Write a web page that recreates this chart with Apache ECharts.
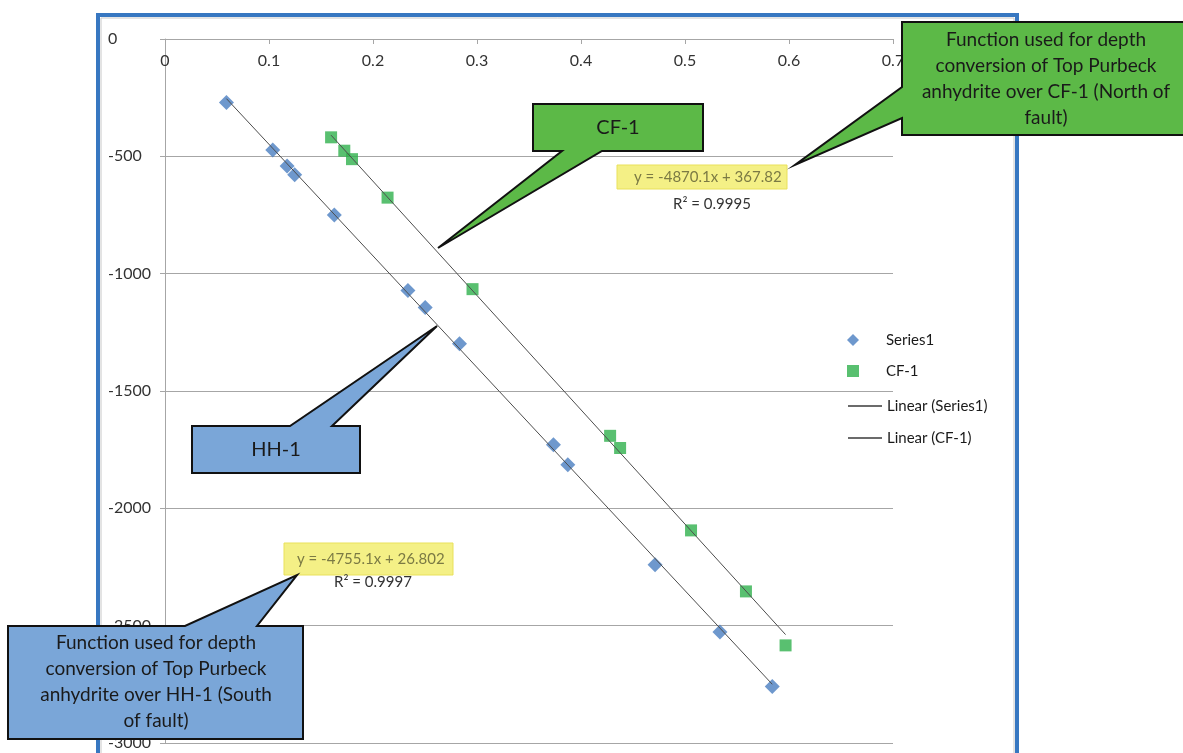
<!DOCTYPE html>
<html>
<head>
<meta charset="utf-8">
<script src="https://cdn.jsdelivr.net/npm/echarts@6/dist/echarts.min.js"></script>
<style>
  html, body { margin: 0; padding: 0; background: #fff; }
  #chart { width: 1183px; height: 753px; }
</style>
</head>
<body>
<div id="chart"></div>
<script>
// data
const series1X = [0.0591, 0.1036, 0.1174, 0.1247, 0.1628, 0.2336, 0.2502, 0.2832, 0.3735, 0.3873, 0.4712, 0.5336, 0.5839]
const series1Y = [-271, -473, -541, -579, -750, -1072, -1144, -1299, -1729, -1814, -2240, -2527, -2759]
const cf1X = [0.1597, 0.1724, 0.1798, 0.2140, 0.2957, 0.4280, 0.4376, 0.5058, 0.5586, 0.5967]
const cf1Y = [-419, -476, -512, -676, -1066, -1691, -1743, -2094, -2354, -2584]

// trendline equations shown on the chart
const trendSeries1 = { slope: -4755.1, intercept: 26.802, r2: '0.9997' }
const trendCF1 = { slope: -4870.1, intercept: 367.82, r2: '0.9995' }

const seriesNames = ['Series1', 'CF-1', 'Linear (Series1)', 'Linear (CF-1)']
const xTicks = [0, 0.7, 0.1]
const yTicks = [-3000, 0, 500]

const FONT = 'Lato, "Open Sans", sans-serif'

function pairs(xs, ys) {
    return xs.map((x, i) => [x, ys[i]])
}
function trendLine(xs, t) {
    const x0 = Math.min(...xs)
    const x1 = Math.max(...xs)
    return [[x0, t.slope * x0 + t.intercept], [x1, t.slope * x1 + t.intercept]]
}
function eqText(t) {
    const b = t.intercept >= 0 ? ' + ' + t.intercept : ' - ' + Math.abs(t.intercept)
    return 'y = ' + t.slope + 'x' + b
}

// callout shapes (annotation boxes with pointer)
function callout(points, fill) {
    return {
        type: 'polygon',
        z: 100,
        shape: { points: points },
        style: { fill: fill, stroke: '#111', lineWidth: 2, lineJoin: 'miter' }
    }
}
function calloutText(x, y, text, size) {
    return {
        type: 'text',
        z: 101,
        x: x,
        y: y,
        style: {
            text: text,
            fill: '#1a1a1a',
            font: size + 'px ' + FONT,
            align: 'center',
            verticalAlign: 'top',
            lineHeight: 26
        }
    }
}
function eqBox(x, y, w, h, t, textX, r2X, r2Y) {
    return [
        {
            type: 'rect', z: 90,
            shape: { x: x, y: y, width: w, height: h },
            style: { fill: '#f4f086', stroke: '#e9e15a', lineWidth: 1 }
        },
        {
            type: 'text', z: 91, x: textX, y: y + h / 2,
            style: { text: eqText(t), fill: '#7b7a44', font: '15px ' + FONT, verticalAlign: 'middle' }
        },
        {
            type: 'text', z: 91, x: r2X, y: r2Y,
            style: { text: 'R² = ' + t.r2, fill: '#333', font: '15px ' + FONT, align: 'center', verticalAlign: 'middle' }
        }
    ]
}

const chart = echarts.init(document.getElementById('chart'))

chart.setOption({
    animation: false,
    backgroundColor: '#fff',
    grid: {
        left: 165,
        top: 39,
        right: 290,
        bottom: 10
    },
    legend: [
        {
            data: [seriesNames[0], seriesNames[1]],
            orient: 'vertical',
            left: 842,
            top: 326,
            itemWidth: 12,
            itemHeight: 12,
            itemGap: 13,
            textStyle: { fontFamily: FONT, fontSize: 15, color: '#1a1a1a', lineHeight: 18, padding: [0, 0, 0, 22] }
        },
        {
            data: [seriesNames[2], seriesNames[3]],
            orient: 'vertical',
            left: 843,
            top: 392,
            itemWidth: 34,
            itemHeight: 12,
            itemGap: 14,
            icon: 'path://M0,0 L34,0 L34,1.6 L0,1.6 Z',
            textStyle: { fontFamily: FONT, fontSize: 15, color: '#1a1a1a', lineHeight: 18 }
        }
    ],
    xAxis: {
        type: 'value',
        position: 'top',
        min: xTicks[0],
        max: xTicks[1],
        interval: xTicks[2],
        axisLine: { onZero: false, lineStyle: { color: '#a6a6a6', width: 1 } },
        axisTick: { show: true, inside: true, length: 5, lineStyle: { color: '#a6a6a6' } },
        axisLabel: {
            inside: true,
            margin: 14,
            color: '#333',
            fontFamily: FONT,
            fontSize: 16,
            showMaxLabel: true
        },
        splitLine: { show: false }
    },
    yAxis: {
        type: 'value',
        min: yTicks[0],
        max: yTicks[1],
        interval: yTicks[2],
        axisLine: { show: true, lineStyle: { color: '#a6a6a6', width: 1 } },
        axisTick: { show: true, length: 5, lineStyle: { color: '#a6a6a6' } },
        axisLabel: {
            align: 'left',
            margin: 57,
            color: '#333',
            fontFamily: FONT,
            fontSize: 16,
            formatter: v => String(v)
        },
        splitLine: { show: true, lineStyle: { color: '#a6a6a6', width: 1 } }
    },
    series: [
        {
            name: seriesNames[0],
            type: 'scatter',
            symbol: 'diamond',
            symbolSize: 15,
            itemStyle: { color: '#4a7ec0' },
            data: pairs(series1X, series1Y),
            z: 5
        },
        {
            name: seriesNames[1],
            type: 'scatter',
            symbol: 'rect',
            symbolSize: 12,
            itemStyle: { color: '#2fb04c' },
            data: pairs(cf1X, cf1Y),
            z: 5
        },
        {
            name: seriesNames[2],
            type: 'line',
            symbol: 'none',
            showSymbol: false,
            lineStyle: { color: '#4d4d4d', width: 1 },
            itemStyle: { color: '#3a3a3a' },
            data: trendLine(series1X, trendSeries1),
            z: 6
        },
        {
            name: seriesNames[3],
            type: 'line',
            symbol: 'none',
            showSymbol: false,
            lineStyle: { color: '#4d4d4d', width: 1 },
            itemStyle: { color: '#3a3a3a' },
            data: trendLine(cf1X, trendCF1),
            z: 6
        }
    ],
    graphic: [
        // chart frame
        {
            type: 'rect', z: 50,
            shape: { x: 98, y: 15, width: 919, height: 800 },
            style: { fill: 'none', stroke: '#3777c1', lineWidth: 4 }
        },
        {
            type: 'rect', z: 49,
            shape: { x: 101, y: 18, width: 913, height: 800 },
            style: { fill: 'none', stroke: '#c8c8c8', lineWidth: 1 }
        },
        ...eqBox(617, 165, 170, 24, trendCF1, 634, 712, 204),
        ...eqBox(284, 543, 169, 32, trendSeries1, 297, 373, 582),
        callout([[533, 104], [703, 104], [703, 151], [602, 151], [438, 248], [562, 151], [533, 151]], '#5cb947'),
        calloutText(618, 115, 'CF-1', 20),
        callout([[902, 22], [1195, 22], [1195, 135], [902, 135], [902, 118], [795, 165], [902, 87]], '#5cb947'),
        calloutText(1046, 27, 'Function used for depth\nconversion of Top Purbeck\nanhydrite over CF-1 (North of\nfault)', 19),
        callout([[192, 426], [290, 426], [437, 326], [332, 426], [360, 426], [360, 473], [192, 473]], '#7aa6d8'),
        calloutText(276, 437, 'HH-1', 20),
        callout([[8, 626], [185, 626], [297, 575], [257, 626], [303, 626], [303, 739], [8, 739]], '#7aa6d8'),
        calloutText(156, 630, 'Function used for depth\nconversion of Top Purbeck\nanhydrite over HH-1 (South\nof fault)', 19)
    ]
})
</script>
</body>
</html>
